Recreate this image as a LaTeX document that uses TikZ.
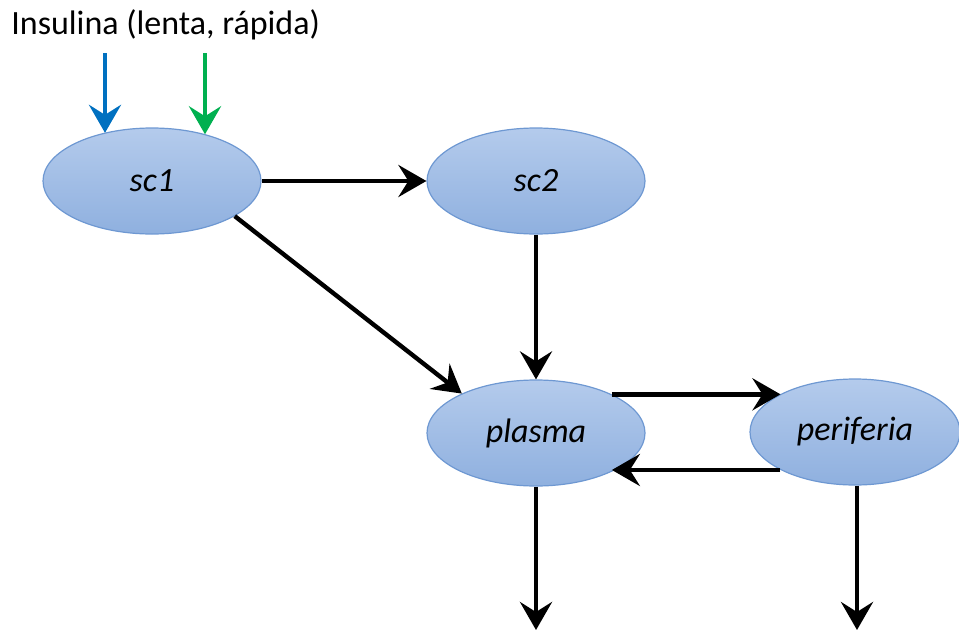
\documentclass[tikz,border=0pt]{standalone}
\usepackage{fontspec}
\setmainfont{Carlito}
\usetikzlibrary{positioning}
\usetikzlibrary{calc}
\usetikzlibrary{shapes.geometric}
\usetikzlibrary{arrows.meta}
\definecolor{compartment top}{RGB}{180,203,236}
\definecolor{compartment bottom}{RGB}{143,176,223}
\definecolor{compartment line}{RGB}{110,152,210}
\definecolor{slow insulin}{RGB}{0,112,192}
\definecolor{fast insulin}{RGB}{0,176,80}
\tikzset{
    % A wide concave arrow head, as in the drawing
    >={Stealth[length=14pt, width=16pt, inset=5pt]},
%
    % Shaded ellipse used for every compartment
    compartment/.style={
        ellipse, draw=compartment line, line width=0.6pt,
        top color=compartment top, bottom color=compartment bottom,
        minimum width=109pt, minimum height=53pt, inner sep=0pt,
        font=\fontsize{17}{20}\selectfont\itshape},
%
    % Thick black flow between compartments
    flow/.style={->, line width=2.2pt},
%
    % Insulin input arrows
    dose/.style={->, line width=2.4pt}}

\begin{document}
\begin{tikzpicture}[x=0.5pt, y=-0.5pt]
\useasboundingbox (0,0) rectangle (959,632);

% Title
\node [anchor=base west, inner sep=0pt, font=\fontsize{17}{20}\selectfont]
    (title) at (11,34) {Insulina (lenta, rápida)};

% Compartments
\node [compartment] (sc1) at (152,181) {sc1};
\node [compartment] (sc2) at (536,181) {sc2};
\node [compartment] (plasma) at (536,433) {plasma};
\node [compartment, minimum width=105pt] (periferia) at (855,432) {periferia};

% Insulin doses into sc1
\coordinate (slow in) at (105,53);
\coordinate (fast in) at (205,53);
\draw [dose, slow insulin] (slow in) -- (slow in |- sc1.135);
\draw [dose, fast insulin] (fast in) -- (fast in |- sc1.41);

% Flows between compartments
\draw [flow] (sc1) -- (sc2);
\draw [flow] (sc1.-23) -- (plasma.152);
\draw [flow] (sc2) -- (plasma);
\draw [flow] (plasma.27) -- (plasma.27 -| periferia.153);
\draw [flow] (periferia.207) -- (periferia.207 -| plasma.-27);

% Elimination
\coordinate (plasma out) at (536,630);
\coordinate (periferia out) at (857,630);
\draw [flow] (plasma.south -| plasma out) -- (plasma out);
\draw [flow] (periferia.south -| periferia out) -- (periferia out);

\end{tikzpicture}
\end{document}
